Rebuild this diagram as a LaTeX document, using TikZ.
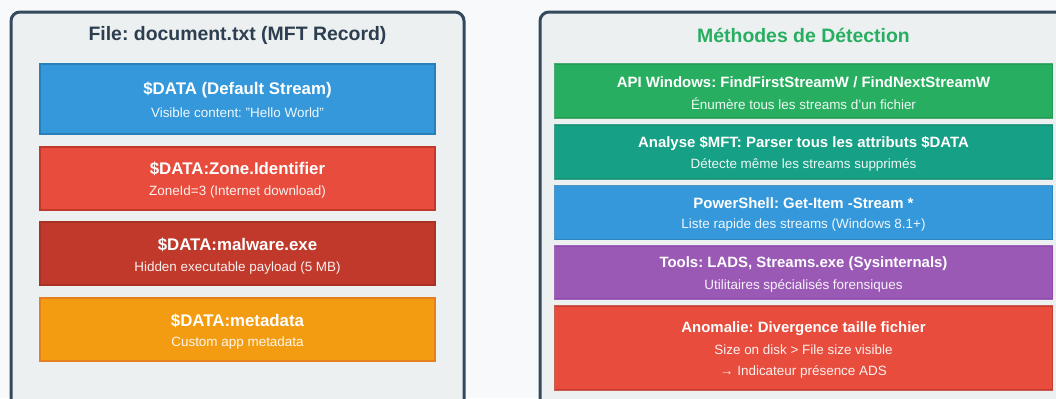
\documentclass[tikz,border=0pt]{standalone}
\usepackage{fontspec}
\setmainfont{Liberation Sans}
\frenchspacing
\definecolor{bg}{HTML}{F8F9FA}
\definecolor{panelfill}{HTML}{ECF0F1}
\definecolor{panelline}{HTML}{34495E}
\definecolor{titletext}{HTML}{2C3E50}
\definecolor{greentitle}{HTML}{27AE60}
\definecolor{cblue}{HTML}{3498DB}\definecolor{cbluel}{HTML}{2980B9}
\definecolor{cred}{HTML}{E74C3C}\definecolor{credl}{HTML}{C0392B}
\definecolor{cdred}{HTML}{C0392B}\definecolor{cdredl}{HTML}{A93226}
\definecolor{corange}{HTML}{F39C12}\definecolor{corangel}{HTML}{E67E22}
\definecolor{cgreen}{HTML}{27AE60}\definecolor{cgreenl}{HTML}{229954}
\definecolor{cteal}{HTML}{16A085}\definecolor{cteall}{HTML}{138D75}
\definecolor{cpurple}{HTML}{9B59B6}\definecolor{cpurplel}{HTML}{8E44AD}
\tikzset{
  panel/.style={draw=panelline, fill=panelfill, line width=3bp, rounded corners=9bp},
  ptitle/.style={font=\fontsize{19.5}{22}\selectfont\bfseries, text=titletext, inner sep=0pt},
  lbox/.style={line width=2bp, minimum width=394bp, inner sep=0pt},
  rbox/.style={line width=1.5bp, draw opacity=0.8, minimum width=498bp, inner sep=0pt},
  ltitle/.style={font=\fontsize{16.9}{19}\selectfont\bfseries, text=white, inner sep=0pt},
  lsub/.style={font=\fontsize{13.5}{16}\selectfont, text=white, text opacity=0.92, inner sep=0pt},
  rtitle/.style={font=\fontsize{15}{18}\selectfont\bfseries, text=white, inner sep=0pt},
  rsub/.style={font=\fontsize{13.5}{15}\selectfont, text=white, text opacity=0.92, inner sep=0pt},
}
\begin{document}
\begin{tikzpicture}[x=1bp, y=-1bp]
\useasboundingbox (0,0) rectangle (1056,398);
\clip (0,0) rectangle (1056,398);
\fill[bg] (0,0) rectangle (1056,398);
% left panel
\draw[panel] (11,12) rectangle (464,430);
\node[ptitle] (lt) at (237.5,35) {File: document.txt (MFT Record)};
\node[lbox, fill=cblue, draw=cbluel, minimum height=70bp] (b1) at (237.5,98.5) {};
\node[ltitle] (b1t) at (237.5,90) {\$DATA (Default Stream)};
\node[lsub] (b1s) at (237.5,113) {Visible content: "Hello World"};
\node[lbox, fill=cred, draw=credl, minimum height=63bp] (b2) at (237.5,178) {};
\node[ltitle] (b2t) at (237.5,169) {\$DATA:Zone.Identifier};
\node[lsub] (b2s) at (237.5,192) {ZoneId=3 (Internet download)};
\node[lbox, fill=cdred, draw=cdredl, minimum height=63bp] (b3) at (237.5,253.5) {};
\node[ltitle] (b3t) at (237.5,245) {\$DATA:malware.exe};
\node[lsub] (b3s) at (237.5,268) {Hidden executable payload (5 MB)};
\node[lbox, fill=corange, draw=corangel, minimum height=63bp] (b4) at (237.5,329.5) {};
\node[ltitle] (b4t) at (237.5,321) {\$DATA:metadata};
\node[lsub] (b4s) at (237.5,343) {Custom app metadata};
% right panel
\draw[panel] (540,12) rectangle (1068,430);
\node[ptitle, text=greentitle] (rt) at (803.5,35) {Méthodes de Détection};
\node[rbox, fill=cgreen, draw=cgreenl, minimum height=54bp] (r1) at (803.5,91) {};
\node[rtitle] (r1t) at (803.5,82) {API Windows: FindFirstStreamW / FindNextStreamW};
\node[rsub] (r1s) at (803.5,104) {Énumère tous les streams d'un fichier};
\node[rbox, fill=cteal, draw=cteall, minimum height=54bp] (r2) at (803.5,152) {};
\node[rtitle] (r2t) at (803.5,143) {Analyse \$MFT: Parser tous les attributs \$DATA};
\node[rsub] (r2s) at (803.5,165) {Détecte même les streams supprimés};
\node[rbox, fill=cblue, draw=cbluel, minimum height=54bp] (r3) at (803.5,212.5) {};
\node[rtitle] (r3t) at (803.5,203) {PowerShell: Get-Item -Stream *};
\node[rsub] (r3s) at (803.5,225) {Liste rapide des streams (Windows 8.1+)};
\node[rbox, fill=cpurple, draw=cpurplel, minimum height=53bp] (r4) at (803.5,272.5) {};
\node[rtitle] (r4t) at (803.5,264) {Tools: LADS, Streams.exe (Sysinternals)};
\node[rsub] (r4s) at (803.5,286) {Utilitaires spécialisés forensiques};
\node[rbox, fill=cred, draw=credl, minimum height=84bp] (r5) at (803.5,348) {};
\node[rtitle] (r5t) at (803.5,329) {Anomalie: Divergence taille fichier};
\node[rsub] (r5s) at (803.5,350) {Size on disk > File size visible};
\node[rsub] (r5s2) at (803.5,372) {→ Indicateur présence ADS};
\end{tikzpicture}
\end{document}
